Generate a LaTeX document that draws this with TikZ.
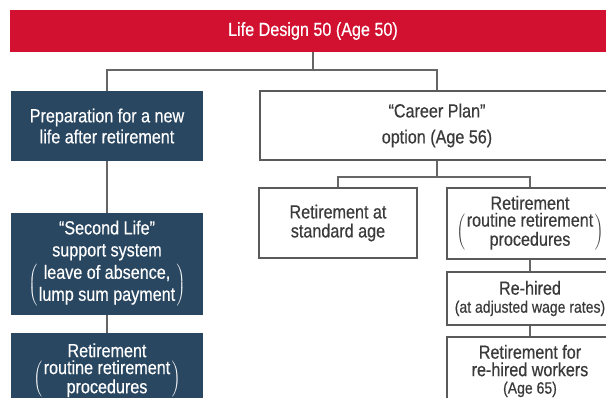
\documentclass[tikz,border=0pt]{standalone}
\usepackage{fontspec}
\setmainfont[FakeStretch=0.85,FakeBold=0.4]{Liberation Sans}
\definecolor{lredc}{HTML}{D21030}
\definecolor{dbluec}{HTML}{2A4761}
\definecolor{linec}{HTML}{666666}
\definecolor{borderc}{HTML}{5A5A5A}
\definecolor{txtc}{HTML}{3A3A3A}
\newcommand\pbox[1]{\(\left(\hspace{1.5pt}\begin{tabular}{@{}c@{}}#1\end{tabular}\hspace{1.5pt}\right)\)}
\newcommand\mainfs{\fontsize{19}{21}\selectfont}
\newcommand\tightfs{\fontsize{19}{18}\selectfont}
\newcommand\smallfs{\fontsize{16.5}{17}\selectfont}
\begin{document}
\begin{tikzpicture}[x=1pt,y=-1pt,
  darkbox/.style={fill=dbluec, text=white, minimum width=192pt, align=center, inner sep=0pt, font=\mainfs},
  whitebox/.style={draw=borderc, line width=1.4pt, fill=white, text=txtc, align=center, inner sep=0pt, font=\mainfs},
  conn/.style={draw=linec, line width=1.6pt}]
\useasboundingbox (0,0) rectangle (606,398);
\clip (0,0) rectangle (606,398);
\fill[white] (0,0) rectangle (606,398);

\node[fill=lredc, text=white, minimum width=606pt, minimum height=42pt, inner sep=0pt, font=\mainfs] (title) at (313,31) {Life Design 50 (Age 50)};

\node[darkbox, minimum height=70pt] (prep) at (107,126) {Preparation for a new\\life after retirement};
\node[darkbox, minimum height=102pt, font=\fontsize{19}{22}\selectfont] (second) at (107,264) {“Second Life”\\support system\\[2pt]\pbox{leave of absence,\\lump sum payment}};
\node[darkbox, minimum height=76pt, font=\tightfs] (ret1) at (107,371) {Retirement\\[2pt]\pbox{routine retirement\\procedures}};

\node[whitebox, minimum width=354pt, minimum height=69pt, font=\fontsize{19}{26}\selectfont] (career) at (437,125.5) {“Career Plan”\\option (Age 56)};
\node[whitebox, minimum width=158pt, minimum height=70pt, font=\fontsize{19}{19}\selectfont] (std) at (338,223) {Retirement at\\standard age};
\node[whitebox, minimum width=166pt, minimum height=71pt, font=\tightfs] (ret2) at (530,223.5) {Retirement\\[2pt]\pbox{routine retirement\\procedures}};
\node[whitebox, minimum width=166pt, minimum height=53pt, font=\tightfs] (rehired) at (530,298.5) {Re-hired\\{\smallfs(at adjusted wage rates)}};
\node[whitebox, minimum width=166pt, minimum height=68pt, font=\fontsize{19}{17.5}\selectfont] (rret) at (530,371) {Retirement for\\re-hired workers\\{\smallfs(Age 65)}};

\coordinate (j1) at (313,70);
\coordinate (j2) at (437,177);
\draw[conn] (title.south) -- (j1);
\draw[conn] (j1) -| (prep.north);
\draw[conn] (j1) -| (career.north);
\draw[conn] (career.south) -- (j2);
\draw[conn] (j2) -| (std.north);
\draw[conn] (j2) -| (ret2.north);
\draw[conn] (prep.south) -- (second.north);
\draw[conn] (second.south) -- (ret1.north);
\draw[conn] (ret2.south) -- (rehired.north);
\draw[conn] (rehired.south) -- (rret.north);
\end{tikzpicture}
\end{document}
